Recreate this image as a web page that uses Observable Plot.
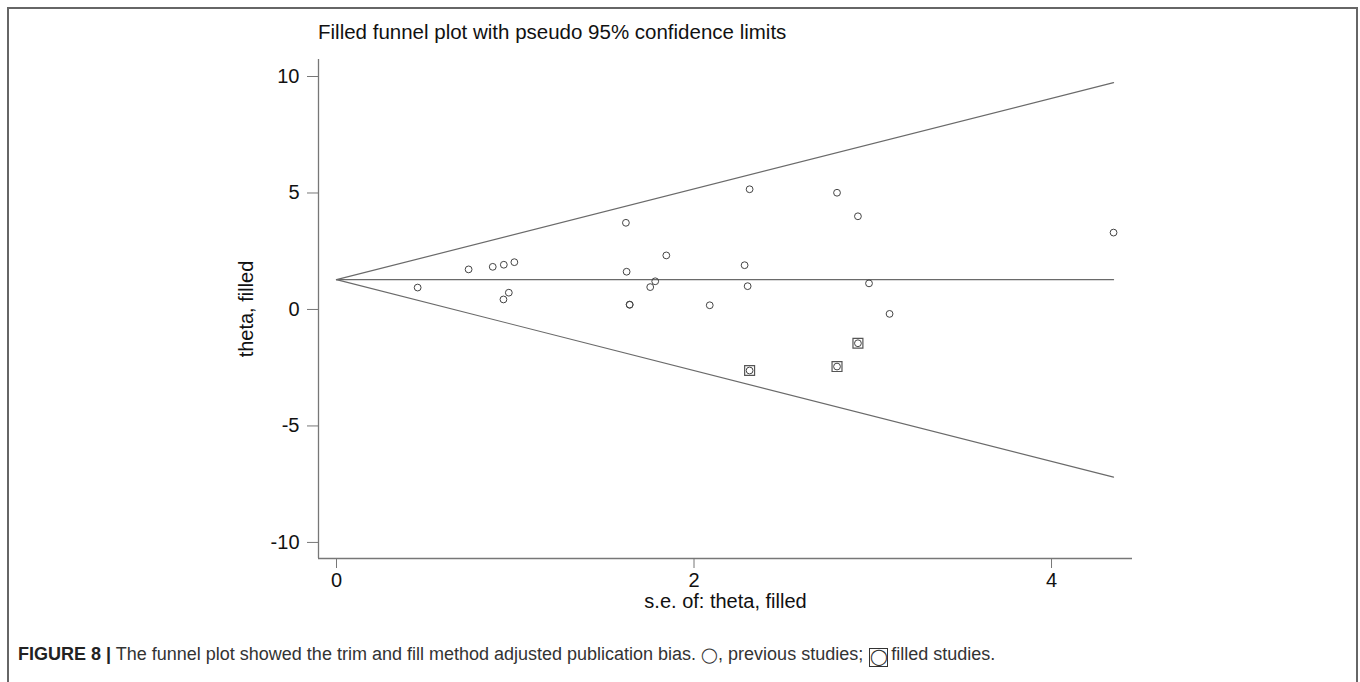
<!DOCTYPE html>
<html>
<head>
<meta charset="utf-8">
<script src="https://cdn.jsdelivr.net/npm/d3@7"></script>
<script src="https://cdn.jsdelivr.net/npm/@observablehq/plot@0.6"></script>
<style>
  body { margin: 0; background: #fff; }
  #frame { position: absolute; left: 7px; top: 7px; width: 1347px; height: 740px;
           border-top: 2px solid #666; border-left: 2px solid #666; border-right: 2px solid #666; }
  #title { position: absolute; left: 318px; top: 20px; font: 20.5px "Liberation Sans", Arial, sans-serif; color: #111; white-space: nowrap; }
  #chart { position: absolute; left: 0; top: 50px; }
  #caption { position: absolute; left: 18px; top: 644px; font: 18px "Liberation Sans", Arial, sans-serif; color: #333; white-space: nowrap; }
  #caption b { color: #222; }
  .circ { font-size: 15px; }
  .box { display: inline-block; box-sizing: border-box; border: 1.5px solid #333; width: 19px; height: 19px; line-height: 16px; text-align: center; vertical-align: -2px; font-size: 16px; margin: 0 3px 0 1px; }
</style>
</head>
<body>
<div id="frame"></div>
<div id="title">Filled funnel plot with pseudo 95% confidence limits</div>
<div id="chart"></div>
<div id="caption"><b>FIGURE 8 |</b> The funnel plot showed the trim and fill method adjusted publication bias. <span class="circ">◯</span>, previous studies; <span class="box">◯</span>filled studies.</div>
<script>
// previous (observed) studies: standard error and effect estimate
const prevSE    = [0.454, 0.739, 0.874, 0.936, 0.995, 0.934, 0.964, 1.619, 1.623, 1.640, 1.640, 1.755, 1.783, 1.845, 2.088, 2.283, 2.300, 2.311, 2.800, 2.917, 2.979, 3.094, 4.347];
const prevTheta = [0.94, 1.72, 1.83, 1.92, 2.03, 0.43, 0.72, 3.72, 1.62, 0.21, 0.20, 0.96, 1.21, 2.32, 0.18, 1.90, 1.00, 5.16, 5.01, 4.00, 1.12, -0.19, 3.30];
// filled (imputed) studies
const filledSE    = [2.311, 2.800, 2.917];
const filledTheta = [-2.62, -2.45, -1.45];
// pseudo 95% confidence limits (endpoints)
const limitSE    = [0, 4.347];
const upperLimit = [1.28, 9.74];
const lowerLimit = [1.28, -7.20];
const pooled     = [1.28, 1.28];
// axes
const xTicks = [0, 2, 4];
const yTicks = [-10, -5, 0, 5, 10];
const xDomain = [-0.1007, 4.453];
const yDomain = [-10.69, 10.73];
const xLabel = "s.e. of: theta, filled";
const yLabel = "theta, filled";

const prev = prevSE.map((s, i) => ({se: s, theta: prevTheta[i]}));
const filled = filledSE.map((s, i) => ({se: s, theta: filledTheta[i]}));
const up = limitSE.map((s, i) => ({se: s, theta: upperLimit[i]}));
const lo = limitSE.map((s, i) => ({se: s, theta: lowerLimit[i]}));
const mid = limitSE.map((s, i) => ({se: s, theta: pooled[i]}));

const fmt = d => String(d);
const lineColor = "#6a6a6a";
const chart = Plot.plot({
  width: 1360,
  height: 580,
  marginLeft: 318,
  marginRight: 228,
  marginTop: 9,
  marginBottom: 72,
  x: {domain: xDomain},
  y: {domain: yDomain},
  style: {fontFamily: "'Liberation Sans', Arial, sans-serif", fontSize: "20px", color: "#111", background: "transparent"},
  marks: [
    Plot.ruleX([xDomain[0]], {stroke: "#777", strokeWidth: 1.3}),
    Plot.ruleY([yDomain[0]], {stroke: "#777", strokeWidth: 1.3}),
    Plot.axisY(yTicks, {tickSize: 11, tickPadding: 8, label: null, stroke: "#777", fontSize: 20, tickFormat: fmt}),
    Plot.axisX(xTicks, {tickSize: 10, tickPadding: 4, label: null, stroke: "#777", fontSize: 20, tickFormat: fmt}),
    Plot.text([xLabel], {frameAnchor: "bottom", dy: 43, lineAnchor: "middle", textAnchor: "middle", fontSize: 20}),
    Plot.text([yLabel], {frameAnchor: "left", dx: -72, rotate: -90, lineAnchor: "middle", textAnchor: "middle", fontSize: 20}),
    Plot.line(up, {x: "se", y: "theta", stroke: lineColor, strokeWidth: 1.2}),
    Plot.line(lo, {x: "se", y: "theta", stroke: lineColor, strokeWidth: 1.2}),
    Plot.line(mid, {x: "se", y: "theta", stroke: lineColor, strokeWidth: 1.2}),
    Plot.dot(prev, {x: "se", y: "theta", r: 3.4, stroke: "#444", strokeWidth: 1, fill: "none"}),
    Plot.dot(filled, {x: "se", y: "theta", symbol: "square", r: 5.6, stroke: "#555", strokeWidth: 1.2, fill: "none"}),
    Plot.dot(filled, {x: "se", y: "theta", r: 3.4, stroke: "#444", strokeWidth: 1, fill: "none"})
  ]
});
document.getElementById("chart").appendChild(chart);
</script>
</body>
</html>
